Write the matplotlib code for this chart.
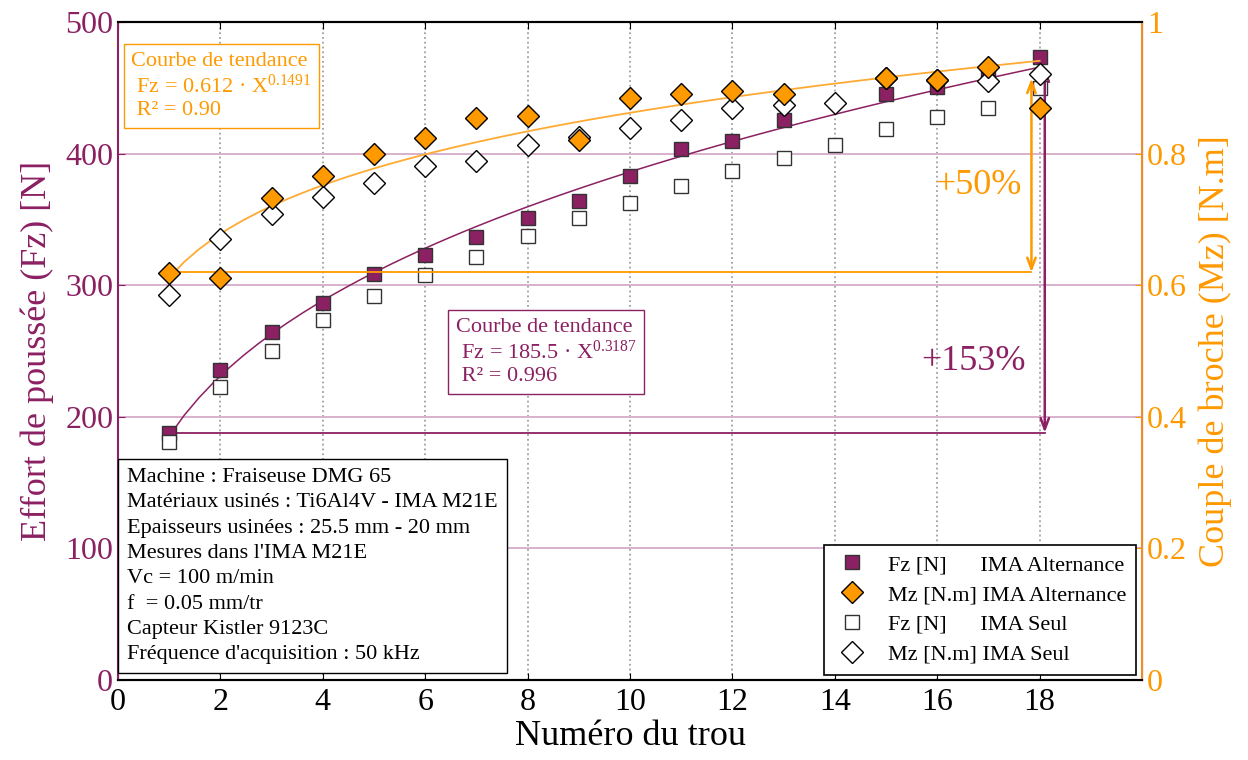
import numpy as np
import matplotlib
matplotlib.use("Agg")
import matplotlib.pyplot as plt
from matplotlib.lines import Line2D
from matplotlib.ticker import FuncFormatter

plt.rcParams['font.family'] = ['Liberation Serif', 'DejaVu Serif']
plt.rcParams['mathtext.fontset'] = 'custom'
plt.rcParams['mathtext.rm'] = 'Liberation Serif'
plt.rcParams['mathtext.default'] = 'regular'

# Data
holes = np.arange(1, 19)
fz_alt = [188, 236, 265, 287, 309, 323, 337, 351, 364, 383, 404, 410, 426, np.nan, 446, 451, 463, 474]
fz_seul = [181, 223, 250, 274, 292, 308, 322, 338, 351, 363, 376, 387, 397, 407, 419, 428, 435, 450]
mz_alt = [0.619, 0.611, 0.733, 0.766, 0.800, 0.824, 0.855, 0.858, 0.821, 0.885, 0.892, 0.896, 0.892,
          np.nan, 0.916, 0.913, 0.932, 0.870]
mz_seul = [0.586, 0.670, 0.709, 0.735, 0.756, 0.782, 0.790, 0.813, 0.826, 0.840, 0.851, 0.870, 0.875,
           0.878, 0.915, 0.912, 0.911, 0.921]

# power-law trend coefficients shown in the boxes
fz_coef, fz_exp = 185.5, 0.3187
mz_coef, mz_exp = 0.612, 0.1491

# increase arrows (start, end)
fz_arrow = (188, 466)
mz_arrow = (0.62, 0.915)

purple = '#8B2062'
orange = '#FF9900'
orange_line = '#FFAA33'

info_lines = ["Machine : Fraiseuse DMG 65",
              "Matériaux usinés : Ti6Al4V - IMA M21E",
              "Epaisseurs usinées : 25.5 mm - 20 mm",
              "Mesures dans l'IMA M21E",
              "Vc = 100 m/min",
              "f  = 0.05 mm/tr",
              "Capteur Kistler 9123C",
              "Fréquence d'acquisition : 50 kHz"]

fig = plt.figure(figsize=(12.48, 7.6), dpi=100)
ax = fig.add_axes([0.0946, 0.1053, 0.8205, 0.8651])
ax2 = ax.twinx()

# axes styling
ax.set_xlim(0, 20)
ax.set_ylim(0, 500)
ax2.set_ylim(0, 1)
ax.set_xticks(np.arange(0, 19, 2))
ax.set_yticks(np.arange(0, 501, 100))
ax2.set_yticks(np.arange(0, 1.01, 0.2))
ax2.yaxis.set_major_formatter(FuncFormatter(lambda v, p: "%g" % round(v, 1)))

ax.tick_params(axis='x', direction='in', top=True, labelsize=23, length=5, pad=6)
ax.tick_params(axis='y', direction='in', labelsize=23, length=5, colors=purple, labelcolor=purple)
ax2.tick_params(axis='y', direction='in', labelsize=23, length=5, colors=orange, labelcolor=orange)

ax.spines['left'].set_color(purple)
ax.spines['left'].set_linewidth(1.5)
ax2.spines['left'].set_visible(False)
ax2.spines['right'].set_color('#F08C28')
ax2.spines['right'].set_linewidth(1.5)
for s in ['top', 'bottom']:
    ax.spines[s].set_linewidth(1.5)
    ax2.spines[s].set_linewidth(1.5)

ax.xaxis.grid(True, color='#A0A0A0', linestyle=':', linewidth=1.3)
ax.yaxis.grid(True, color='#D8B0CC', linestyle='-', linewidth=1.4)
ax.set_axisbelow(True)

ax.set_xlabel("Numéro du trou", fontsize=26, labelpad=2)
ax.set_ylabel("Effort de poussée (Fz) [N]", fontsize=26, color=purple, labelpad=8)
ax2.set_ylabel("Couple de broche (Mz) [N.m]", fontsize=26, color=orange, labelpad=8)

# trend curves
xt = np.linspace(1, 18, 60)
ax.plot(xt, fz_coef * xt ** fz_exp, color=purple, lw=1.1, zorder=2)
ax2.plot(xt, mz_coef * xt ** mz_exp, color=orange_line, lw=1.3, zorder=2)

# markers
ax.plot(holes, fz_alt, 's', ms=10.5, mfc=purple, mec='#333333', mew=1.0, ls='none', zorder=3)
ax.plot(holes, fz_seul, 's', ms=10.5, mfc='white', mec='#333333', mew=1.0, ls='none', zorder=3)
ax2.plot(holes, mz_seul, 'D', ms=11, mfc='white', mec='black', mew=1.0, ls='none', zorder=3)
ax2.plot(holes, mz_alt, 'D', ms=11, mfc=orange, mec='black', mew=1.0, ls='none', zorder=4)

# increase arrows
ax.plot([1, 18.1], [fz_arrow[0], fz_arrow[0]], color=purple, lw=1.3, zorder=2)
ax.annotate("", xy=(18.1, fz_arrow[1]), xytext=(18.1, fz_arrow[0]),
            arrowprops=dict(arrowstyle='<->,head_length=0.8,head_width=0.3',
                            color=purple, lw=1.8, shrinkA=0, shrinkB=0))
ax2.plot([1, 17.84], [mz_arrow[0], mz_arrow[0]], color=orange, lw=1.3, zorder=2)
ax2.annotate("", xy=(17.84, mz_arrow[1]), xytext=(17.84, mz_arrow[0]),
             arrowprops=dict(arrowstyle='<->,head_length=0.8,head_width=0.3',
                             color=orange, lw=1.8, shrinkA=0, shrinkB=0))
ax2.text(16.8, 0.752, "+50%", color=orange, fontsize=26, ha='center', va='center')
ax.text(16.7, 242, "+153%", color=purple, fontsize=26, ha='center', va='center')

# trend boxes
ax2.text(0.013, 0.955,
         "Courbe de tendance\n Fz = 0.612 · X$^{0.1491}$\n R² = 0.90",
         transform=ax2.transAxes, fontsize=16, color=orange, ha='left', va='top',
         linespacing=1.22,
         bbox=dict(boxstyle='square,pad=0.35', fc='white', ec=orange, lw=1.0), zorder=6)
ax2.text(0.33, 0.551,
         "Courbe de tendance\n Fz = 185.5 · X$^{0.3187}$\n R² = 0.996",
         transform=ax2.transAxes, fontsize=16, color=purple, ha='left', va='top',
         linespacing=1.22,
         bbox=dict(boxstyle='square,pad=0.35', fc='white', ec=purple, lw=1.0), zorder=6)

# info box
ax2.text(0.009, 0.024, "\n".join(info_lines), transform=ax2.transAxes, fontsize=16,
         ha='left', va='bottom', linespacing=1.45,
         bbox=dict(boxstyle='square,pad=0.4', fc='white', ec='black', lw=1.0), zorder=6)

# legend
handles = [Line2D([], [], marker='s', ms=10.5, mfc=purple, mec='#333333', ls='none'),
           Line2D([], [], marker='D', ms=11, mfc=orange, mec='black', ls='none'),
           Line2D([], [], marker='s', ms=10.5, mfc='white', mec='#333333', ls='none'),
           Line2D([], [], marker='D', ms=11, mfc='white', mec='black', ls='none')]
labels = ["Fz [N]      IMA Alternance", "Mz [N.m] IMA Alternance",
          "Fz [N]      IMA Seul", "Mz [N.m] IMA Seul"]
leg = ax2.legend(handles, labels, loc='lower right', bbox_to_anchor=(1.005, -0.009),
                 fontsize=16, frameon=True, fancybox=False, framealpha=1,
                 edgecolor='black', labelspacing=0.42, handletextpad=0.8,
                 borderpad=0.45, handlelength=1.6)
leg.get_frame().set_linewidth(1.2)
leg.set_zorder(7)

fig.savefig("out.png", dpi=100)
